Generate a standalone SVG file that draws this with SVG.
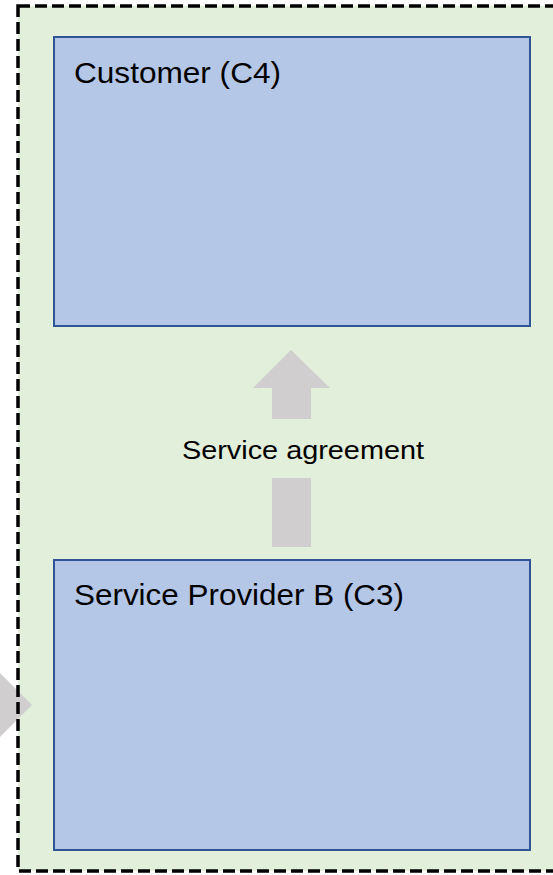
<svg xmlns="http://www.w3.org/2000/svg" width="553" height="875" viewBox="0 0 553 875">
<style>
.box{fill:#B4C7E7;stroke:#2F5597;stroke-width:2}
.arrow{fill:#D0CECE}
.lbl{font-family:"Liberation Sans","Noto Sans",sans-serif;fill:#000}
</style>
<rect x="0" y="0" width="553" height="875" fill="#FFFFFF"/>
<g id="container">
<rect x="18" y="6" width="560" height="865" fill="#E2EFDA"/>
</g>
<g id="connectors">
<polygon class="arrow" points="-20,673 0,673 32,705 0,737 -20,737"/>
<polygon class="arrow" points="291,350 330,388 311,388 311,419 272,419 272,388 253,388"/>
<rect class="arrow" x="272" y="478" width="39" height="69"/>
<text class="lbl" x="303" y="459" font-size="26" text-anchor="middle" textLength="242" lengthAdjust="spacingAndGlyphs">Service agreement</text>
</g>
<rect x="18" y="6" width="560" height="865" fill="none" stroke="#000" stroke-width="3.5" stroke-dasharray="12,5"/>
<g id="customer">
<rect class="box" x="54" y="37" width="476" height="289"/>
<text class="lbl" x="74" y="83" font-size="30" textLength="207" lengthAdjust="spacingAndGlyphs">Customer (C4)</text>
</g>
<g id="provider">
<rect class="box" x="54" y="560" width="476" height="290"/>
<text class="lbl" x="74" y="605" font-size="30" textLength="330" lengthAdjust="spacingAndGlyphs">Service Provider B (C3)</text>
</g>
</svg>
